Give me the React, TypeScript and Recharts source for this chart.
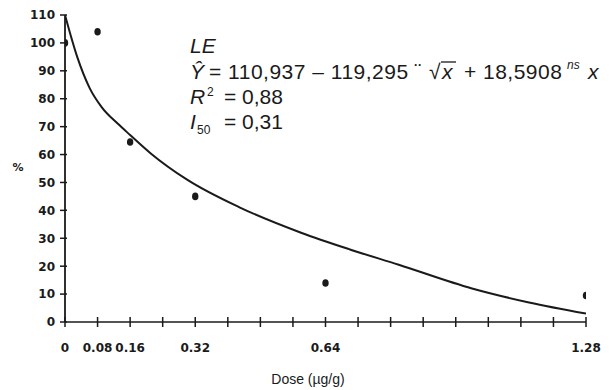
import React from 'react';
import { ComposedChart, Line, Scatter, XAxis, YAxis } from 'recharts';

// observed means (% of control) per dose
const doses = [0, 0.08, 0.16, 0.32, 0.64, 1.28];
const observed = [100, 104, 64.5, 45, 14, 9.5];

// fitted curve
const curveX = [0, 0.03, 0.06, 0.09, 0.13, 0.16, 0.21, 0.3, 0.43, 0.58, 0.7, 0.82, 1.0, 1.14, 1.28];
const curveY = [110, 95, 84, 77, 71, 67, 60.5, 51, 41, 32, 26, 20.5, 12, 7, 3];

const xTicks = [0, 0.08, 0.16, 0.24, 0.32, 0.4, 0.48, 0.56, 0.64, 0.72, 0.8, 0.88, 0.96, 1.04, 1.12, 1.2, 1.28];
const xLabels = ['0', '0.08', '0.16', '0.32', '0.64', '1.28'];
const yTicks = [0, 10, 20, 30, 40, 50, 60, 70, 80, 90, 100, 110];

const pointData = doses.map((x, i) => ({ x, y: observed[i] }));
const curveData = curveX.map((x, i) => ({ x, y: curveY[i] }));

const W = 609;
const H = 390;
const PLOT_LEFT = 65;
const PLOT_BOTTOM = 322;
const INK = '#1a1a1a';
const tickFont = '"DejaVu Sans", sans-serif';
const textFont = '"Liberation Sans", Arial, sans-serif';

const XTick = (props: any) => {
  const { x, payload } = props;
  const label = xLabels.find((l) => Math.abs(parseFloat(l) - payload.value) < 1e-6);
  return (
    <g>
      <path d={`M${x},${PLOT_BOTTOM - 5}V${PLOT_BOTTOM}`} stroke={INK} strokeWidth={1.5} fill="none" />
      {label !== undefined && (
        <text x={x} y={352} textAnchor="middle" fontFamily={tickFont} fontWeight="bold" fontSize={12} fill={INK}>
          {label}
        </text>
      )}
    </g>
  );
};

const YTick = (props: any) => {
  const { y, payload } = props;
  return (
    <g>
      <path d={`M${PLOT_LEFT},${y}H${PLOT_LEFT + 2}`} stroke={INK} strokeWidth={1.5} fill="none" />
      <text x={PLOT_LEFT - 10} y={y} dy="0.36em" textAnchor="end" fontFamily={tickFont} fontWeight="bold" fontSize={12} fill={INK}>
        {payload.value}
      </text>
    </g>
  );
};

const Dot = (props: any) => {
  const { cx, cy } = props;
  return <ellipse cx={cx} cy={cy} rx={3.2} ry={3.8} fill={INK} />;
};

const Annotations = () => (
  <svg width={W} height={H} style={{ position: 'absolute', left: 0, top: 0, pointerEvents: 'none' }}>
    <g fontFamily={textFont} fontSize={21} fill={INK}>
      <text x={190} y={53} fontStyle="italic">LE</text>
      <text x={190} y={79} fontStyle="italic">Ŷ</text>
      <text x={209} y={79} letterSpacing={0.5}>= 110,937 – 119,295</text>
      <text x={414} y={69} fontSize={12} fontWeight="bold">··</text>
      <text x={429} y={79}>√</text>
      <line x1={441} x2={456} y1={62} y2={62} stroke={INK} strokeWidth={1.3} />
      <text x={442} y={79} fontStyle="italic">x</text>
      <text x={464} y={79}>+</text>
      <text x={483} y={79} letterSpacing={0.5}>18,5908</text>
      <text x={567} y={69} fontSize={12} fontStyle="italic">ns</text>
      <text x={588} y={79} fontStyle="italic">x</text>
      <text x={190} y={104} fontStyle="italic">R</text>
      <text x={207} y={96} fontSize={12}>2</text>
      <text x={224} y={104}>= 0,88</text>
      <text x={190} y={129} fontStyle="italic">I</text>
      <text x={197} y={134} fontSize={12}>50</text>
      <text x={224} y={129}>= 0,31</text>
    </g>
    <text x={18} y={171} textAnchor="middle" fontFamily={tickFont} fontWeight="bold" fontSize={11} fill={INK}>%</text>
    <text x={308} y={384} textAnchor="middle" fontFamily={textFont} fontSize={14} fill={INK}>Dose (µg/g)</text>
  </svg>
);

export default function App() {
  return (
    <div style={{ position: 'absolute', left: 0, top: 0, width: W, height: H, background: '#fff' }}>
      <ComposedChart width={W} height={H} margin={{ top: 15, right: 23, left: 0, bottom: 0 }}>
        <XAxis
          type="number"
          dataKey="x"
          domain={[0, 1.28]}
          ticks={xTicks}
          tick={(p: any) => <XTick {...p} />}
          tickLine={{ stroke: INK, strokeWidth: 1.5 }}
          tickSize={5}
          axisLine={{ stroke: INK, strokeWidth: 1.6 }}
          height={68}
          allowDataOverflow
          interval={0}
        />
        <YAxis
          type="number"
          domain={[0, 110]}
          ticks={yTicks}
          tick={(p: any) => <YTick {...p} />}
          tickLine={{ stroke: INK, strokeWidth: 1.5 }}
          tickSize={5}
          axisLine={{ stroke: INK, strokeWidth: 1.8 }}
          width={65}
          interval={0}
        />
        <Line
          data={curveData}
          dataKey="y"
          type="monotone"
          stroke={INK}
          strokeWidth={2}
          dot={false}
          isAnimationActive={false}
        />
        <Scatter data={pointData} dataKey="y" fill={INK} shape={<Dot />} isAnimationActive={false} />
      </ComposedChart>
      <Annotations />
    </div>
  );
}
